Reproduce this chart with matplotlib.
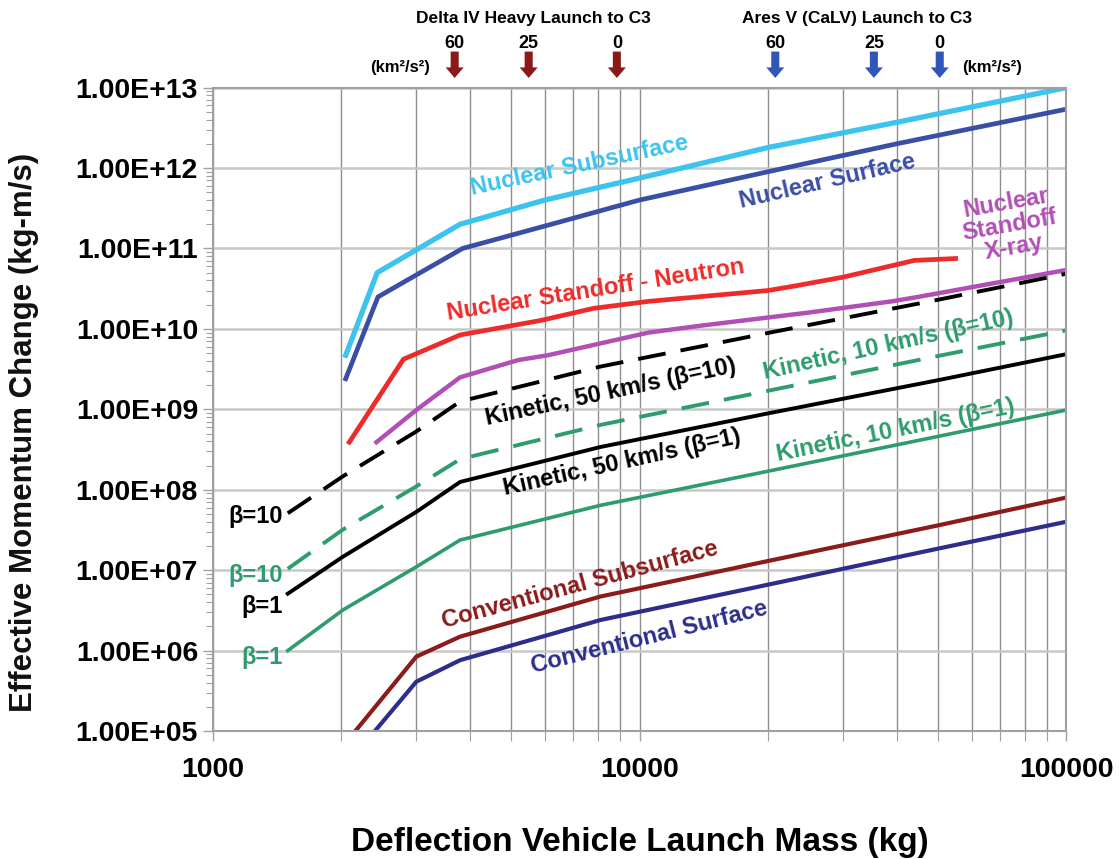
import math
import matplotlib
matplotlib.use("Agg")
import matplotlib.pyplot as plt
from matplotlib.ticker import FixedLocator, FuncFormatter, LogLocator, NullFormatter
from matplotlib.transforms import blended_transform_factory

plt.rcParams['font.family'] = ['Liberation Sans', 'DejaVu Sans']
plt.rcParams['font.weight'] = 'bold'

# launch mass (kg) / effective momentum change (kg-m/s)
nuc_sub_m = [2050, 2430, 3800, 6000, 10000, 20000, 40000, 100000]
nuc_sub_p = [4.7e9, 5.0e10, 2.0e11, 4.0e11, 7.5e11, 1.8e12, 3.7e12, 1.0e13]

nuc_surf_m = [2050, 2440, 3850, 6000, 10000, 20000, 40000, 100000]
nuc_surf_p = [2.4e9, 2.5e10, 1.0e11, 1.9e11, 4.0e11, 9.0e11, 2.0e12, 5.4e12]

neutron_m = [2090, 2800, 3800, 5900, 7800, 10500, 20000, 23000, 30000, 40000, 44000, 55000]
neutron_p = [3.9e8, 4.2e9, 8.4e9, 1.28e10, 1.8e10, 2.2e10, 3.0e10, 3.4e10, 4.4e10, 6.3e10, 7.1e10, 7.5e10]

xray_m = [2420, 3000, 3800, 5200, 6100, 8100, 10500, 14000, 25000, 39000, 45000, 100000]
xray_p = [3.9e8, 9.8e8, 2.5e9, 4.1e9, 4.7e9, 6.6e9, 9.0e9, 1.1e10, 1.6e10, 2.2e10, 2.5e10, 5.4e10]

kin_m = [1500, 2020, 3000, 3800, 8100, 20000, 50000, 100000]
kin50_b10 = [5.1e7, 1.47e8, 5.3e8, 1.25e9, 3.4e9, 8.9e9, 2.3e10, 4.85e10]
kin50_b1 = [5.1e6, 1.47e7, 5.3e7, 1.25e8, 3.4e8, 8.9e8, 2.3e9, 4.85e9]
kin10_b10 = [1.04e7, 3.2e7, 1.1e8, 2.4e8, 6.4e8, 1.7e9, 4.6e9, 9.6e9]
kin10_b1 = [1.0e6, 3.2e6, 1.1e7, 2.37e7, 6.4e7, 1.7e8, 4.6e8, 9.8e8]

conv_sub_m = [2160, 3000, 3800, 8100, 20000, 50000, 100000]
conv_sub_p = [1e5, 8.4e5, 1.49e6, 4.7e6, 1.3e7, 3.6e7, 8.0e7]
conv_surf_m = [2400, 3000, 3800, 8100, 20000, 50000, 100000]
conv_surf_p = [1e5, 4.1e5, 7.6e5, 2.4e6, 6.6e6, 1.85e7, 4.0e7]

# C3 launch capability markers (km^2/s^2 -> kg)
c3_labels = ["60", "25", "0"]
delta_iv_m = [3690, 5500, 8850]
ares_v_m = [20800, 35400, 50500]

C_LBLUE = '#3cc3ef'
C_BLUE = '#3a4ea6'
C_RED = '#ee2b2b'
C_PURPLE = '#b14fb5'
C_GREEN = '#2e9c6c'
C_DRED = '#8c1b1b'
C_NAVY = '#2d2d8c'

fig = plt.figure(figsize=(11.19, 8.59), dpi=100)
ax = fig.add_axes([0.190, 0.149, 0.763, 0.749])
ax.set_xscale('log')
ax.set_yscale('log')
ax.set_xlim(1000, 100000)
ax.set_ylim(1e5, 1e13)

ax.plot(nuc_sub_m, nuc_sub_p, color=C_LBLUE, lw=3.8)
ax.plot(nuc_surf_m, nuc_surf_p, color=C_BLUE, lw=3.4)
ax.plot(neutron_m, neutron_p, color=C_RED, lw=3.4)
ax.plot(xray_m, xray_p, color=C_PURPLE, lw=3.2)
ax.plot(kin_m, kin50_b10, color='black', lw=2.8, dashes=(7.2, 3.9))
ax.plot(kin_m, kin10_b10, color=C_GREEN, lw=2.8, dashes=(7.2, 3.9))
ax.plot(kin_m, kin50_b1, color='black', lw=2.8)
ax.plot(kin_m, kin10_b1, color=C_GREEN, lw=2.6)
ax.plot(conv_sub_m, conv_sub_p, color=C_DRED, lw=3.0)
ax.plot(conv_surf_m, conv_surf_p, color=C_NAVY, lw=3.0)

# axes styling
for s in ax.spines.values():
    s.set_color('#a0a0a0')
    s.set_linewidth(1.5)
ax.xaxis.set_major_locator(FixedLocator([1000, 10000, 100000]))
ax.xaxis.set_minor_locator(FixedLocator([2000, 3000, 4000, 5000, 6000, 7000, 8000, 9000,
                                         20000, 30000, 40000, 50000, 60000, 70000, 80000, 90000]))
ax.xaxis.set_major_formatter(FuncFormatter(lambda v, p: f"{int(round(v))}"))
ax.xaxis.set_minor_formatter(NullFormatter())
ax.yaxis.set_major_locator(LogLocator(base=10, numticks=20))
ax.yaxis.set_minor_locator(LogLocator(base=10, subs=range(2, 10), numticks=20))
ax.yaxis.set_minor_formatter(NullFormatter())
ax.yaxis.set_major_formatter(FuncFormatter(lambda v, p: "1.00E+%02d" % round(math.log10(v))))
ax.grid(True, which='major', axis='y', color='#c8c8c8', lw=1.8)
ax.grid(True, which='both', axis='x', color='#8e8e8e', lw=1.0)
ax.tick_params(axis='both', which='major', labelsize=20.5, colors='#a0a0a0', labelcolor='black',
               length=7, width=1)
ax.tick_params(axis='both', which='minor', colors='#a0a0a0', length=5, width=0.8)
ax.tick_params(axis='x', which='major', pad=12)
ax.tick_params(axis='x', which='minor', length=7)
ax.set_axisbelow(True)

fig.text(24 / 1119, 1 - 432 / 859, "Effective Momentum Change (kg-m/s)", rotation=90,
         ha='center', va='center', fontsize=22.5, fontweight='bold', color='#111111')
fig.text(640 / 1119, 1 - 843 / 859, "Deflection Vehicle Launch Mass (kg)",
         ha='center', va='center', fontsize=24, fontweight='bold')

lab = dict(ha='center', va='center', fontsize=17, fontweight='bold', rotation_mode='anchor')
ax.text(7240, 1.07e12, "Nuclear Subsurface", color=C_LBLUE, rotation=12, **lab)
ax.text(27600, 6.9e11, "Nuclear Surface", color=C_BLUE, rotation=13, **lab)
ax.text(7900, 3.0e10, "Nuclear Standoff - Neutron", color=C_RED, rotation=9, **lab)
ax.text(73600, 1.94e11, "Nuclear\nStandoff\nX-ray", color=C_PURPLE, rotation=10,
        linespacing=1.0, **lab)
ax.text(8570, 1.63e9, "Kinetic, 50 km/s (β=10)", color='black', rotation=12, **lab)
ax.text(38200, 6.3e9, "Kinetic, 10 km/s (β=10)", color=C_GREEN, rotation=12.5, **lab)
ax.text(9100, 2.2e8, "Kinetic, 50 km/s (β=1)", color='black', rotation=12.5, **lab)
ax.text(39800, 5.5e8, "Kinetic, 10 km/s (β=1)", color=C_GREEN, rotation=11.5, **lab)
ax.text(7240, 6.5e6, "Conventional Subsurface", color=C_DRED, rotation=15, **lab)
ax.text(10560, 1.47e6, "Conventional Surface", color=C_NAVY, rotation=14, **lab)

beta = dict(ha='right', va='center', fontsize=17, fontweight='bold')
ax.text(1462, 4.6e7, "β=10", color='black', **beta)
ax.text(1462, 8.7e6, "β=10", color=C_GREEN, **beta)
ax.text(1462, 3.5e6, "β=1", color='black', **beta)
ax.text(1462, 8.1e5, "β=1", color=C_GREEN, **beta)

# launch vehicle C3 markers above the plot
trans = blended_transform_factory(ax.transData, ax.transAxes)
top = dict(transform=trans, ha='center', va='center', fontweight='bold', clip_on=False)
ax.text(5630, 1.108, "Delta IV Heavy Launch to C3", fontsize=12.5, **top)
ax.text(32400, 1.108, "Ares V (CaLV) Launch to C3", fontsize=12.5, **top)
ax.text(2748, 1.031, "(km²/s²)", fontsize=12, **top)
ax.text(67100, 1.031, "(km²/s²)", fontsize=12, **top)
for masses, col in ((delta_iv_m, '#8a1a1a'), (ares_v_m, '#3057b8')):
    for m, t in zip(masses, c3_labels):
        ax.text(m, 1.069, t, fontsize=13, **top)
        ax.annotate('', xy=(m, 1.015), xytext=(m, 1.056), xycoords=trans, textcoords=trans,
                    annotation_clip=False,
                    arrowprops=dict(arrowstyle='simple,head_width=0.65,head_length=0.38,tail_width=0.29',
                                    mutation_scale=20, shrinkA=0, shrinkB=0, color=col, lw=0))

fig.savefig("out.png", dpi=100)
